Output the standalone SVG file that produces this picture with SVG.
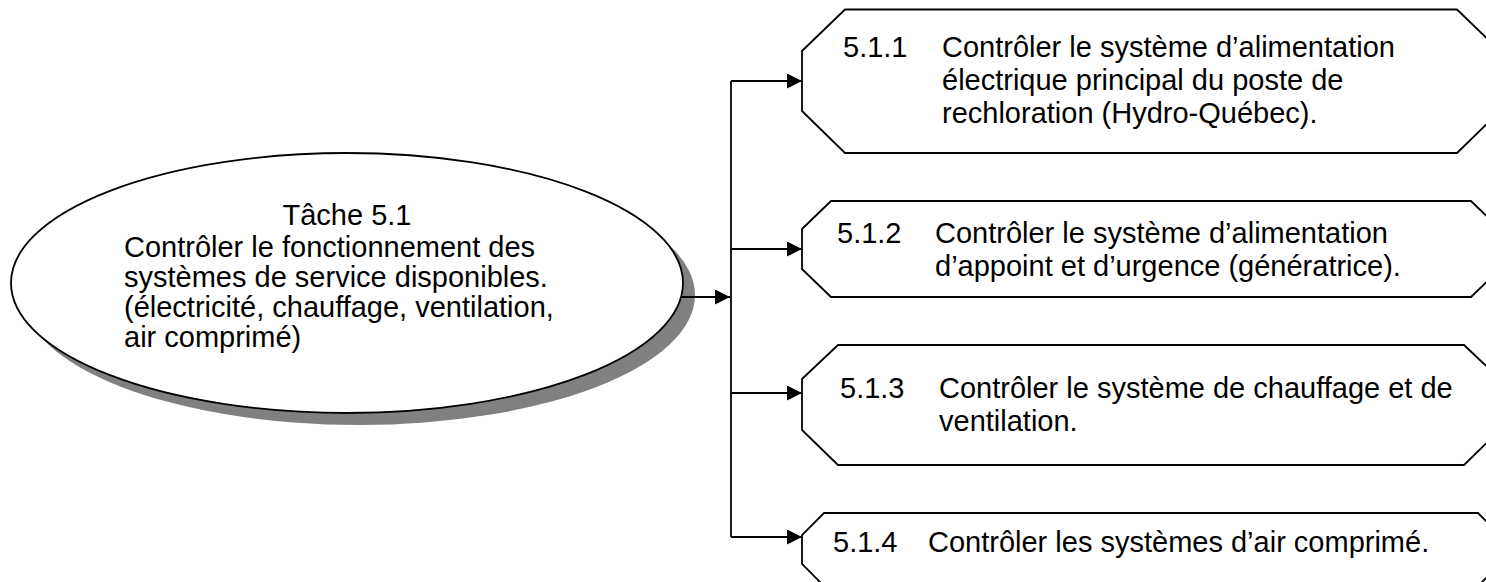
<svg xmlns="http://www.w3.org/2000/svg" width="1486" height="582" viewBox="0 0 1486 582">
<defs>
<style>
.t{font-family:"Liberation Sans",Arial,sans-serif;font-size:29px;fill:#000}
.box{fill:#fff;stroke:#000;stroke-width:1.8}
.ln{fill:none;stroke:#000;stroke-width:1.8}
</style>
<marker id="ah" markerWidth="15" markerHeight="15" refX="15" refY="7.5" orient="auto" markerUnits="userSpaceOnUse" viewBox="0 0 15 15">
<path d="M0,0 L15,7.5 L0,15 Z" fill="#000"/>
</marker>
</defs>
<rect width="1486" height="582" fill="#fff"/>
<g id="task">
<ellipse cx="359" cy="295" rx="336" ry="130" fill="#808080"/>
<ellipse cx="347" cy="283" rx="336" ry="130" fill="#fff" stroke="#000" stroke-width="1.8"/>
<text class="t" x="347" y="225" text-anchor="middle">Tâche 5.1</text>
<text class="t" x="124" y="257">Contrôler le fonctionnement des</text>
<text class="t" x="124" y="287">systèmes de service disponibles.</text>
<text class="t" x="124" y="317">(électricité, chauffage, ventilation,</text>
<text class="t" x="124" y="347">air comprimé)</text>
</g>
<g id="connectors">
<path class="ln" d="M682,297 H730" marker-end="url(#ah)"/>
<path class="ln" d="M731,81 V537"/>
<path class="ln" d="M731,81 H802" marker-end="url(#ah)"/>
<path class="ln" d="M731,249 H802" marker-end="url(#ah)"/>
<path class="ln" d="M731,393 H802" marker-end="url(#ah)"/>
<path class="ln" d="M731,537 H802" marker-end="url(#ah)"/>
</g>
<g id="n511">
<polygon class="box" points="845,9.5 1457,9.5 1500,51 1500,111 1457,153 845,153 802,111 802,51"/>
<text class="t" x="843" y="57">5.1.1</text>
<text class="t" x="942" y="57">Contrôler le système d’alimentation</text>
<text class="t" x="942" y="90">électrique principal du poste de</text>
<text class="t" x="942" y="123">rechloration (Hydro-Québec).</text>
</g>
<g id="n512">
<polygon class="box" points="831,201 1471,201 1500,229 1500,269 1471,297 831,297 802,269 802,229"/>
<text class="t" x="837" y="243">5.1.2</text>
<text class="t" x="935" y="243">Contrôler le système d’alimentation</text>
<text class="t" x="935" y="276">d’appoint et d’urgence (génératrice).</text>
</g>
<g id="n513">
<polygon class="box" points="838,345 1464,345 1500,379 1500,430 1464,465 838,465 802,430 802,379"/>
<text class="t" x="840" y="398">5.1.3</text>
<text class="t" x="939" y="398">Contrôler le système de chauffage et de</text>
<text class="t" x="939" y="431">ventilation.</text>
</g>
<g id="n514">
<polygon class="box" points="824,513 1478,513 1500,535 1500,564 1478,586 824,586 802,564 802,535"/>
<text class="t" x="833" y="552">5.1.4</text>
<text class="t" x="928" y="552">Contrôler les systèmes d’air comprimé.</text>
</g>
</svg>
